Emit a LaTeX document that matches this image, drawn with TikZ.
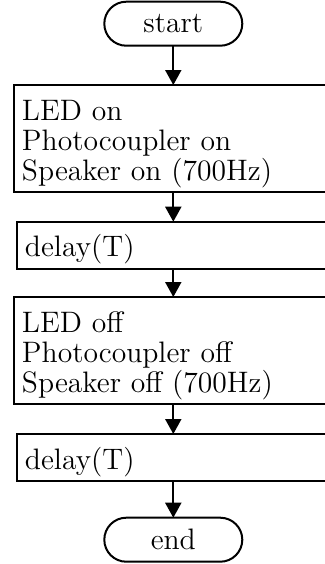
\documentclass[tikz,border=0pt]{standalone}
\usetikzlibrary{arrows.meta}

\begin{document}
\begin{tikzpicture}[x=0.5pt, y=-0.5pt,
terminal/.style={draw, line width=1pt, rounded corners=11pt, minimum width=69pt, minimum height=22pt, inner sep=0pt, outer sep=0pt, font=\fontsize{14.8pt}{15pt}\selectfont},
stepbox/.style={draw, line width=1pt, anchor=north west, align=left, text width=158pt, inner xsep=4pt, inner ysep=0pt, outer sep=0pt, text height=17.5pt, text depth=6pt, font=\fontsize{14.8pt}{15pt}\selectfont},
threelines/.style={text depth=36pt},
flow/.style={-{Triangle[length=7.5pt, width=8pt]}, line width=1pt},
]
\useasboundingbox (0,0) rectangle (325,564);

% Terminals
\node[terminal] (start) at (173.3,23.7) {start};
\node[terminal] (end) at (173.3,539.7) {end};

% Process steps
\node[stepbox, threelines] (on) at (14,85) {LED on\\Photocoupler on\\Speaker on (700Hz)};
\node[stepbox] (wait1) at (17,221.7) {delay(T)};
\node[stepbox, threelines] (off) at (14,297) {LED off\\Photocoupler off\\Speaker off (700Hz)};
\node[stepbox] (wait2) at (17,434) {delay(T)};

% Flow arrows
\draw[flow] (start) -- (start |- on.north);
\draw[flow] (start |- on.south) -- (start |- wait1.north);
\draw[flow] (start |- wait1.south) -- (start |- off.north);
\draw[flow] (start |- off.south) -- (start |- wait2.north);
\draw[flow] (start |- wait2.south) -- (end);

\end{tikzpicture}
\end{document}
